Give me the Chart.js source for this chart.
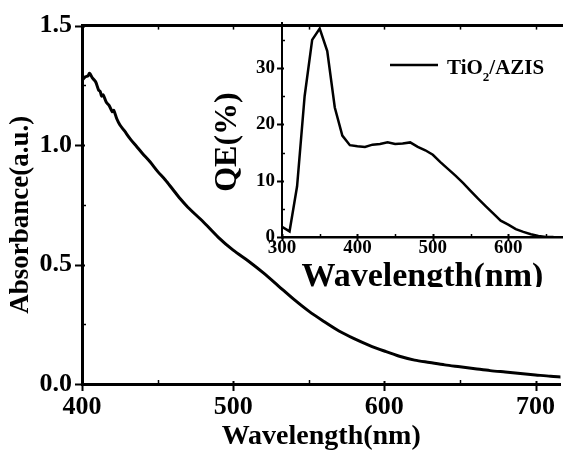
<!DOCTYPE html>
<html>
<head>
<meta charset="utf-8">
<style>
  html, body { margin: 0; padding: 0; background: #fff; }
  #wrap { position: relative; width: 563px; height: 454px; overflow: hidden; }
  #main { position: absolute; left: 0; top: 0; }
  #insetBox { position: absolute; left: 205px; top: 0; width: 358px; height: 287px; overflow: hidden; }
  #inset { position: absolute; left: 0; top: 0; }
</style>
</head>
<body>
<div id="wrap">
  <canvas id="main" width="563" height="454"></canvas>
  <div id="insetBox"><canvas id="inset" width="358" height="300"></canvas></div>
</div>
<script src="https://cdn.jsdelivr.net/npm/chart.js@4.4.3/dist/chart.umd.min.js"></script>
<script>
// absorbance spectrum (main plot)
const absWavelength = [400, 402, 404, 405, 407, 409, 411, 412, 413, 414, 416, 418, 420, 421, 423, 425, 428,
  432, 436, 440, 445, 450, 455, 460, 465, 470, 480, 490, 500, 510, 520, 530, 540, 550, 560, 570, 580,
  590, 600, 610, 620, 630, 640, 650, 660, 670, 680, 690, 700, 710, 717];
const absorbance = [1.27, 1.285, 1.29, 1.30, 1.28, 1.265, 1.23, 1.225, 1.205, 1.21, 1.18, 1.165, 1.14, 1.145, 1.11, 1.085, 1.06,
  1.025, 0.995, 0.965, 0.93, 0.89, 0.855, 0.815, 0.775, 0.74, 0.68, 0.615, 0.56, 0.515, 0.465, 0.41, 0.355, 0.305, 0.262, 0.222, 0.19,
  0.162, 0.138, 0.116, 0.10, 0.09, 0.08, 0.072, 0.064, 0.056, 0.05, 0.044, 0.038, 0.032, 0.029];

// quantum efficiency (inset)
const qeWavelength = [300, 310, 320, 330, 340, 350, 360, 370, 380, 390, 400, 410, 420, 430, 440, 450, 460, 470,
  480, 490, 500, 510, 520, 530, 540, 550, 560, 570, 580, 590, 600, 610, 620, 630, 640, 650, 660];
const qeValues = [1.8, 1.0, 9.0, 25.0, 35.0, 37.0, 33.0, 23.0, 18.0, 16.3, 16.1, 16.0, 16.4, 16.5, 16.8, 16.5, 16.6, 16.8,
  16.0, 15.4, 14.6, 13.3, 12.1, 10.9, 9.6, 8.2, 6.8, 5.5, 4.2, 2.9, 2.2, 1.4, 0.9, 0.5, 0.2, 0.0, 0.0];

const mainXTicks = [400, 500, 600, 700];
const mainYTicks = [0, 0.5, 1.0, 1.5];
const insetXTicks = [300, 400, 500, 600];
const insetYTicks = [0, 10, 20, 30];
const legendLabel = ['TiO', '2', '/AZIS'];

Chart.defaults.font.family = '"Liberation Serif", "Times New Roman", serif';
Chart.defaults.font.weight = 'bold';
Chart.defaults.color = '#000';

const toPoints = (xs, ys) => xs.map((x, i) => ({ x, y: ys[i] }));

// extra tick marks and lines Origin-style
const tickMarks = {
  id: 'tickMarks',
  afterDraw(chart, args, opts) {
    const { ctx, chartArea: a, scales } = chart;
    ctx.save();
    ctx.strokeStyle = '#000';
    (opts.marks || []).forEach(m => {
      const s = scales[m.axis];
      ctx.lineWidth = m.width;
      m.values.forEach(v => {
        const p = Math.round(s.getPixelForValue(v)) + 0.5;
        ctx.beginPath();
        if (m.edge === 'bottom') { ctx.moveTo(p, a.bottom - m.inside); ctx.lineTo(p, a.bottom + m.outside); }
        if (m.edge === 'top') { ctx.moveTo(p, a.top - m.outside); ctx.lineTo(p, a.top + m.inside); }
        if (m.edge === 'left') { ctx.moveTo(a.left - m.outside, p); ctx.lineTo(a.left + m.inside, p); }
        ctx.stroke();
      });
    });
    if (opts.topBorder) {
      ctx.lineWidth = opts.topBorder;
      ctx.beginPath();
      ctx.moveTo(a.left, a.top);
      ctx.lineTo(chart.width, a.top);
      ctx.stroke();
    }
    if (opts.yTitle) {
      const t = opts.yTitle;
      ctx.font = 'bold ' + t.size + 'px "Liberation Serif"';
      ctx.fillStyle = '#000';
      ctx.textAlign = 'center';
      ctx.textBaseline = 'middle';
      ctx.translate(t.x, (a.top + a.bottom) / 2 + t.dy);
      ctx.rotate(-Math.PI / 2);
      ctx.fillText(t.text, 0, 0);
    }
    ctx.restore();
  }
};

// legend with subscript
const insetLegend = {
  id: 'insetLegend',
  afterDraw(chart) {
    const { ctx } = chart;
    ctx.save();
    ctx.strokeStyle = '#000';
    ctx.lineWidth = 2.5;
    ctx.beginPath();
    ctx.moveTo(185, 65);
    ctx.lineTo(233, 65);
    ctx.stroke();
    ctx.fillStyle = '#000';
    ctx.textBaseline = 'alphabetic';
    ctx.textAlign = 'left';
    let x = 242;
    ctx.font = 'bold 21px "Liberation Serif"';
    ctx.fillText(legendLabel[0], x, 74);
    x += ctx.measureText(legendLabel[0]).width;
    ctx.font = 'bold 13px "Liberation Serif"';
    ctx.fillText(legendLabel[1], x, 81);
    x += ctx.measureText(legendLabel[1]).width;
    ctx.font = 'bold 21px "Liberation Serif"';
    ctx.fillText(legendLabel[2], x, 74);
    ctx.restore();
  }
};

new Chart(document.getElementById('main'), {
  type: 'scatter',
  data: {
    datasets: [{
      data: toPoints(absWavelength, absorbance),
      showLine: true,
      borderColor: '#000',
      borderWidth: 3,
      pointRadius: 0,
      tension: 0.3
    }]
  },
  options: {
    responsive: false,
    animation: false,
    layout: { padding: { top: 23, right: 0, left: 0, bottom: 0 } },
    plugins: {
      legend: { display: false },
      tooltip: { enabled: false },
      tickMarks: {
        topBorder: 3,
        yTitle: { text: 'Absorbance(a.u.)', size: 27, x: 21, dy: 10 },
        marks: [
          { axis: 'x', edge: 'bottom', values: mainXTicks, inside: 3, outside: 7, width: 2 },
          { axis: 'x', edge: 'bottom', values: [450, 550, 650], inside: 4, outside: 0, width: 1.5 },
          { axis: 'x', edge: 'top', values: [450, 500, 550, 600, 650, 700], inside: 4, outside: 0, width: 1.5 },
          { axis: 'y', edge: 'left', values: mainYTicks, inside: 3, outside: 7, width: 2 },
          { axis: 'y', edge: 'left', values: [0.25, 0.75, 1.25], inside: 4, outside: 0, width: 1.5 }
        ]
      }
    },
    scales: {
      x: {
        type: 'linear',
        min: 400,
        max: 716.5,
        afterBuildTicks: s => { s.ticks = mainXTicks.map(v => ({ value: v })); },
        afterFit: s => { s.height = 70; },
        ticks: { font: { size: 26, weight: 'bold' }, color: '#000', padding: 8, maxRotation: 0, autoSkip: false },
        grid: { display: false, drawTicks: false },
        border: { display: true, width: 3, color: '#000' },
        title: { display: true, text: 'Wavelength(nm)', font: { size: 28, weight: 'bold' }, color: '#000', padding: { top: 0, bottom: 0 } }
      },
      y: {
        min: 0,
        max: 1.5,
        afterBuildTicks: s => { s.ticks = mainYTicks.map(v => ({ value: v })); },
        afterFit: s => { s.width = 82; },
        ticks: { font: { size: 26, weight: 'bold' }, color: '#000', padding: 10, callback: v => v.toFixed(1) },
        grid: { display: false, drawTicks: false },
        border: { display: true, width: 3, color: '#000' }
      }
    }
  },
  plugins: [tickMarks]
});

new Chart(document.getElementById('inset'), {
  type: 'scatter',
  data: {
    datasets: [{
      data: toPoints(qeWavelength, qeValues),
      showLine: true,
      borderColor: '#000',
      borderWidth: 2.5,
      pointRadius: 0,
      tension: 0
    }]
  },
  options: {
    responsive: false,
    animation: false,
    layout: { padding: { top: 23, right: 0, left: 0, bottom: 0 } },
    plugins: {
      legend: { display: false },
      tooltip: { enabled: false },
      tickMarks: {
        yTitle: { text: 'QE(%)', size: 32, x: 23, dy: 12 },
        marks: [
          { axis: 'x', edge: 'bottom', values: insetXTicks, inside: 3, outside: 4, width: 2 },
          { axis: 'x', edge: 'bottom', values: [350, 450, 550, 650], inside: 3, outside: 0, width: 1.5 },
          { axis: 'y', edge: 'left', values: insetYTicks, inside: 2, outside: 5, width: 2 },
          { axis: 'y', edge: 'left', values: [5, 15, 25, 35], inside: 3, outside: 0, width: 1.5 }
        ]
      }
    },
    scales: {
      x: {
        type: 'linear',
        min: 300,
        max: 672.6,
        afterBuildTicks: s => { s.ticks = insetXTicks.map(v => ({ value: v })); },
        afterFit: s => { s.height = 63; },
        ticks: { font: { size: 19, weight: 'bold' }, color: '#000', padding: 0, maxRotation: 0, autoSkip: false },
        grid: { display: false, drawTicks: false },
        border: { display: true, width: 2.5, color: '#000' },
        title: { display: true, text: 'Wavelength(nm)', font: { size: 34, weight: 'bold' }, color: '#000', padding: { top: 0, bottom: 2 } }
      },
      y: {
        min: 0,
        max: 38,
        afterBuildTicks: s => { s.ticks = insetYTicks.map(v => ({ value: v })); },
        afterFit: s => { s.width = 77; },
        ticks: { font: { size: 19, weight: 'bold' }, color: '#000', padding: 7 },
        grid: { display: false, drawTicks: false },
        border: { display: true, width: 2, color: '#000' }
      }
    }
  },
  plugins: [tickMarks, insetLegend]
});
</script>
</body>
</html>
